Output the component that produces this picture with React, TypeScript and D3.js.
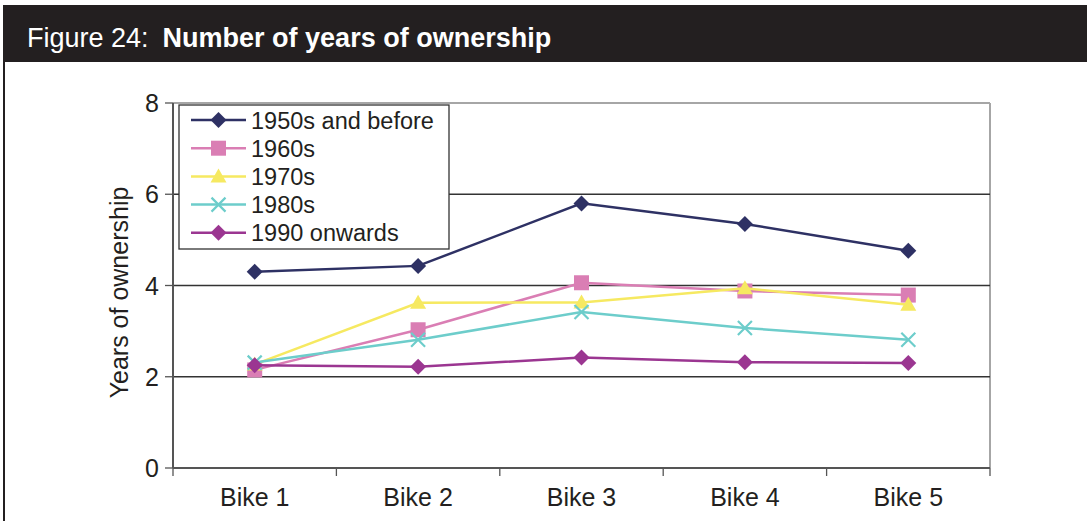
import * as d3 from 'd3';

// chart data
const bikes = ['Bike 1', 'Bike 2', 'Bike 3', 'Bike 4', 'Bike 5'];
const yTicks = [0, 2, 4, 6, 8];

const s1950 = [4.3, 4.43, 5.8, 5.35, 4.76];
const s1960 = [2.15, 3.03, 4.06, 3.88, 3.79];
const s1970 = [2.27, 3.62, 3.63, 3.94, 3.58];
const s1980 = [2.31, 2.81, 3.42, 3.07, 2.81];
const s1990 = [2.25, 2.22, 2.42, 2.32, 2.3];

const seriesNames = ['1950s and before', '1960s', '1970s', '1980s', '1990 onwards'];
const seriesValues = [s1950, s1960, s1970, s1980, s1990];
const seriesColors = ['#2E3164', '#DA7EB4', '#F6E961', '#6DCDCB', '#9B3691'];
const seriesMarkers = ['diamond', 'square', 'triangle', 'cross', 'diamond'];

const W = 1087;
const H = 521;
const plot = { left: 173, right: 990, top: 103, bottom: 468 };
const font = 'Arial, "Liberation Sans", sans-serif';

const Marker = ({ type, x, y, color }: { type: string; x: number; y: number; color: string }) => {
  if (type === 'diamond') {
    const r = 8;
    return <path d={`M${x},${y - r}L${x + r},${y}L${x},${y + r}L${x - r},${y}Z`} fill={color} />;
  }
  if (type === 'square') {
    return <rect x={x - 7.5} y={y - 7.5} width={15} height={15} fill={color} />;
  }
  if (type === 'triangle') {
    return <path d={`M${x},${y - 8}L${x + 8},${y + 6}L${x - 8},${y + 6}Z`} fill={color} />;
  }
  const r = 7;
  return (
    <path
      d={`M${x - r},${y - r}L${x + r},${y + r}M${x + r},${y - r}L${x - r},${y + r}`}
      stroke={color}
      strokeWidth={2.2}
      fill="none"
    />
  );
};

const App = () => {
  const x = d3.scaleBand().domain(bikes).range([plot.left, plot.right]);
  const y = d3.scaleLinear().domain([0, 8]).range([plot.bottom, plot.top]);
  const cx = (b: string) => (x(b) as number) + x.bandwidth() / 2;

  const line = d3
    .line<number>()
    .x((_, i) => cx(bikes[i]))
    .y((d) => y(d));

  const legendX = 179;
  const legendY = 105;

  return (
    <svg width={W} height={H} style={{ position: 'absolute', left: 0, top: 0, background: '#fff' }}>
      {/* header band */}
      <rect x={3} y={5} width={W - 3} height={57} fill="#231F20" />
      <text x={27} y={47} fill="#fff" fontFamily={font} fontSize={27}>
        <tspan>Figure 24:</tspan>
        <tspan dx={14} fontWeight="bold">Number of years of ownership</tspan>
      </text>
      <line x1={4} x2={4} y1={62} y2={H} stroke="#231F20" strokeWidth={2} />

      {/* plot frame + gridlines */}
      <line x1={plot.left} x2={plot.right} y1={plot.top} y2={plot.top} stroke="#a6a6a6" strokeWidth={2} />
      <line x1={plot.right} x2={plot.right} y1={plot.top} y2={plot.bottom} stroke="#a6a6a6" strokeWidth={2} />
      {yTicks.filter((t) => t > 0 && t < 8).map((t) => (
        <line key={t} x1={plot.left} x2={plot.right} y1={y(t)} y2={y(t)} stroke="#333" strokeWidth={1.3} />
      ))}

      {/* y axis */}
      <line x1={plot.left} x2={plot.left} y1={plot.top} y2={plot.bottom} stroke="#555" strokeWidth={2} />
      {yTicks.map((t) => (
        <g key={t}>
          <line x1={plot.left - 8} x2={plot.left} y1={y(t)} y2={y(t)} stroke="#555" strokeWidth={1.3} />
          <text x={plot.left - 14} y={y(t) + 9} textAnchor="end" fontFamily={font} fontSize={25} fill="#231F20">
            {t}
          </text>
        </g>
      ))}
      <text
        transform={`translate(128,${(plot.top + plot.bottom) / 2 + 7}) rotate(-90)`}
        textAnchor="middle"
        fontFamily={font}
        fontSize={25}
        fill="#231F20"
      >
        Years of ownership
      </text>

      {/* x axis */}
      <line x1={plot.left} x2={plot.right} y1={plot.bottom} y2={plot.bottom} stroke="#555" strokeWidth={2} />
      {bikes.concat(['']).map((b, i) => {
        const xx = plot.left + i * x.bandwidth();
        return <line key={i} x1={xx} x2={xx} y1={plot.bottom} y2={plot.bottom + 8} stroke="#555" strokeWidth={1.3} />;
      })}
      {bikes.map((b) => (
        <text key={b} x={cx(b)} y={506} textAnchor="middle" fontFamily={font} fontSize={25} fill="#231F20">
          {b}
        </text>
      ))}

      {/* series */}
      {seriesValues.map((vals, si) => (
        <g key={seriesNames[si]}>
          <path d={line(vals) as string} fill="none" stroke={seriesColors[si]} strokeWidth={2.5} />
          {vals.map((v, i) => (
            <Marker key={i} type={seriesMarkers[si]} x={cx(bikes[i])} y={y(v)} color={seriesColors[si]} />
          ))}
        </g>
      ))}

      {/* legend */}
      <rect x={legendX} y={legendY} width={270} height={144} fill="#fff" stroke="#333" strokeWidth={1.3} />
      {seriesNames.map((n, i) => {
        const ly = legendY + 15 + i * 28.2;
        return (
          <g key={n}>
            <line x1={191} x2={246} y1={ly} y2={ly} stroke={seriesColors[i]} strokeWidth={2.5} />
            <Marker type={seriesMarkers[i]} x={218.5} y={ly} color={seriesColors[i]} />
            <text x={251} y={ly + 8.5} fontFamily={font} fontSize={23.5} fill="#231F20">
              {n}
            </text>
          </g>
        );
      })}
    </svg>
  );
};

export default App;
